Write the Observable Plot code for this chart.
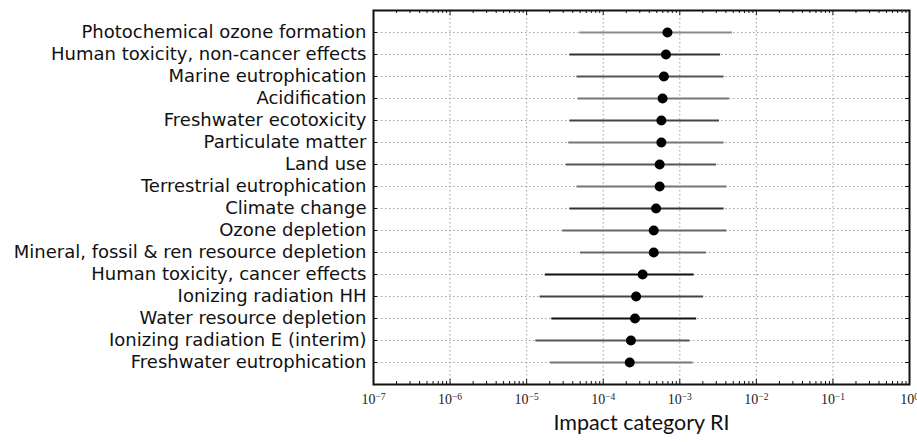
<!DOCTYPE html>
<html><head><meta charset="utf-8">
<script src="https://cdn.jsdelivr.net/npm/d3@7"></script>
<script src="https://cdn.jsdelivr.net/npm/@observablehq/plot@0.6"></script>
<style>body{margin:0;background:#fff;} svg{display:block}</style>
</head><body><div id="chart"></div>
<script>
const categories = [
  "Photochemical ozone formation",
  "Human toxicity, non-cancer effects",
  "Marine eutrophication",
  "Acidification",
  "Freshwater ecotoxicity",
  "Particulate matter",
  "Land use",
  "Terrestrial eutrophication",
  "Climate change",
  "Ozone depletion",
  "Mineral, fossil & ren resource depletion",
  "Human toxicity, cancer effects",
  "Ionizing radiation HH",
  "Water resource depletion",
  "Ionizing radiation E (interim)",
  "Freshwater eutrophication"
];
const ri     = [6.9e-4, 6.6e-4, 6.2e-4, 5.96e-4, 5.75e-4, 5.75e-4, 5.46e-4, 5.46e-4, 4.9e-4, 4.57e-4, 4.57e-4, 3.27e-4, 2.69e-4, 2.6e-4, 2.3e-4, 2.22e-4];
const riLow  = [4.95e-5, 3.67e-5, 4.54e-5, 4.7e-5, 3.67e-5, 3.55e-5, 3.3e-5, 4.54e-5, 3.67e-5, 2.97e-5, 5.05e-5, 1.75e-5, 1.5e-5, 2.13e-5, 1.32e-5, 2.05e-5];
const riHigh = [4.85e-3, 3.41e-3, 3.79e-3, 4.45e-3, 3.3e-3, 3.79e-3, 3.01e-3, 4.14e-3, 3.79e-3, 4.14e-3, 2.23e-3, 1.54e-3, 2.05e-3, 1.66e-3, 1.36e-3, 1.49e-3];
const barShades = ["#8a8a8a","#333","#555","#777","#444","#777","#555","#777","#333","#666","#666","#111","#444","#111","#555","#777"];
const decadeTicks = [1e-7, 1e-6, 1e-5, 1e-4, 1e-3, 1e-2, 1e-1, 1];
const axisTitle = "Impact category RI";

const rows = categories.map((name, i) => ({name, ri: ri[i], lo: riLow[i], hi: riHigh[i], shade: barShades[i]}));
const minorTicks = [];
for (const d of decadeTicks.slice(0, -1)) for (let m = 2; m < 10; m++) minorTicks.push(m * d);

const W = 917, H = 442, mt = 10, mb = 58, ml = 373, mr = 8;
const fh = H - mt - mb, fw = W - ml - mr;
const gridStyle = {stroke: "#a0a0a0", strokeOpacity: 1, strokeDasharray: "1.5,2.5"};

const chart = Plot.plot({
  width: W, height: H,
  marginTop: mt, marginBottom: mb, marginLeft: ml, marginRight: mr,
  style: {background: "#fff", overflow: "visible"},
  x: {type: "log", domain: [1e-7, 1]},
  y: {type: "point", domain: categories, padding: 1},
  color: {type: "identity"},
  marks: [
    Plot.gridX(decadeTicks.slice(1, -1), gridStyle),
    Plot.gridY(categories, gridStyle),
    Plot.ruleY(rows, {y: "name", x1: "lo", x2: "hi", stroke: "shade", strokeWidth: 2}),
    Plot.dot(rows, {y: "name", x: "ri", r: 5, fill: "#000", stroke: "none"}),
    Plot.ruleX(decadeTicks, {insetTop: fh - 5, stroke: "#111"}),
    Plot.ruleX(decadeTicks, {insetBottom: fh - 5, stroke: "#111"}),
    Plot.ruleX(minorTicks, {insetTop: fh - 3, stroke: "#111"}),
    Plot.ruleX(minorTicks, {insetBottom: fh - 3, stroke: "#111"}),
    Plot.ruleY(categories, {insetRight: fw - 4, stroke: "#111"}),
    Plot.ruleY(categories, {insetLeft: fw - 4, stroke: "#111"}),
    Plot.frame({stroke: "#111", strokeWidth: 2}),
    Plot.axisX(decadeTicks, {tickSize: 0, tickPadding: 10, label: null,
      tickFormat: d => `10^${Math.round(Math.log10(d))}`,
      fontFamily: "Liberation Serif", fontSize: 14, fill: "#222"}),
    Plot.axisY({tickSize: 0, tickPadding: 7, label: null,
      fontFamily: "DejaVu Sans", fontSize: 18, fill: "#111"}),
    Plot.text([axisTitle], {frameAnchor: "bottom", dy: 45, fontFamily: "Lato", fontSize: 21.5, fill: "#111"})
  ]
});

d3.select(chart).selectAll('g[aria-label="x-axis tick label"] text').each(function () {
  const t = this.textContent;
  const e = t.split("^")[1];
  const sel = d3.select(this);
  sel.text(null);
  sel.append("tspan").text("10");
  sel.append("tspan").attr("dy", "-0.45em").attr("font-size", "9.5px").text(e.replace("-", "\u2212"));
});

document.getElementById("chart").appendChild(chart);
</script>
</body></html>
